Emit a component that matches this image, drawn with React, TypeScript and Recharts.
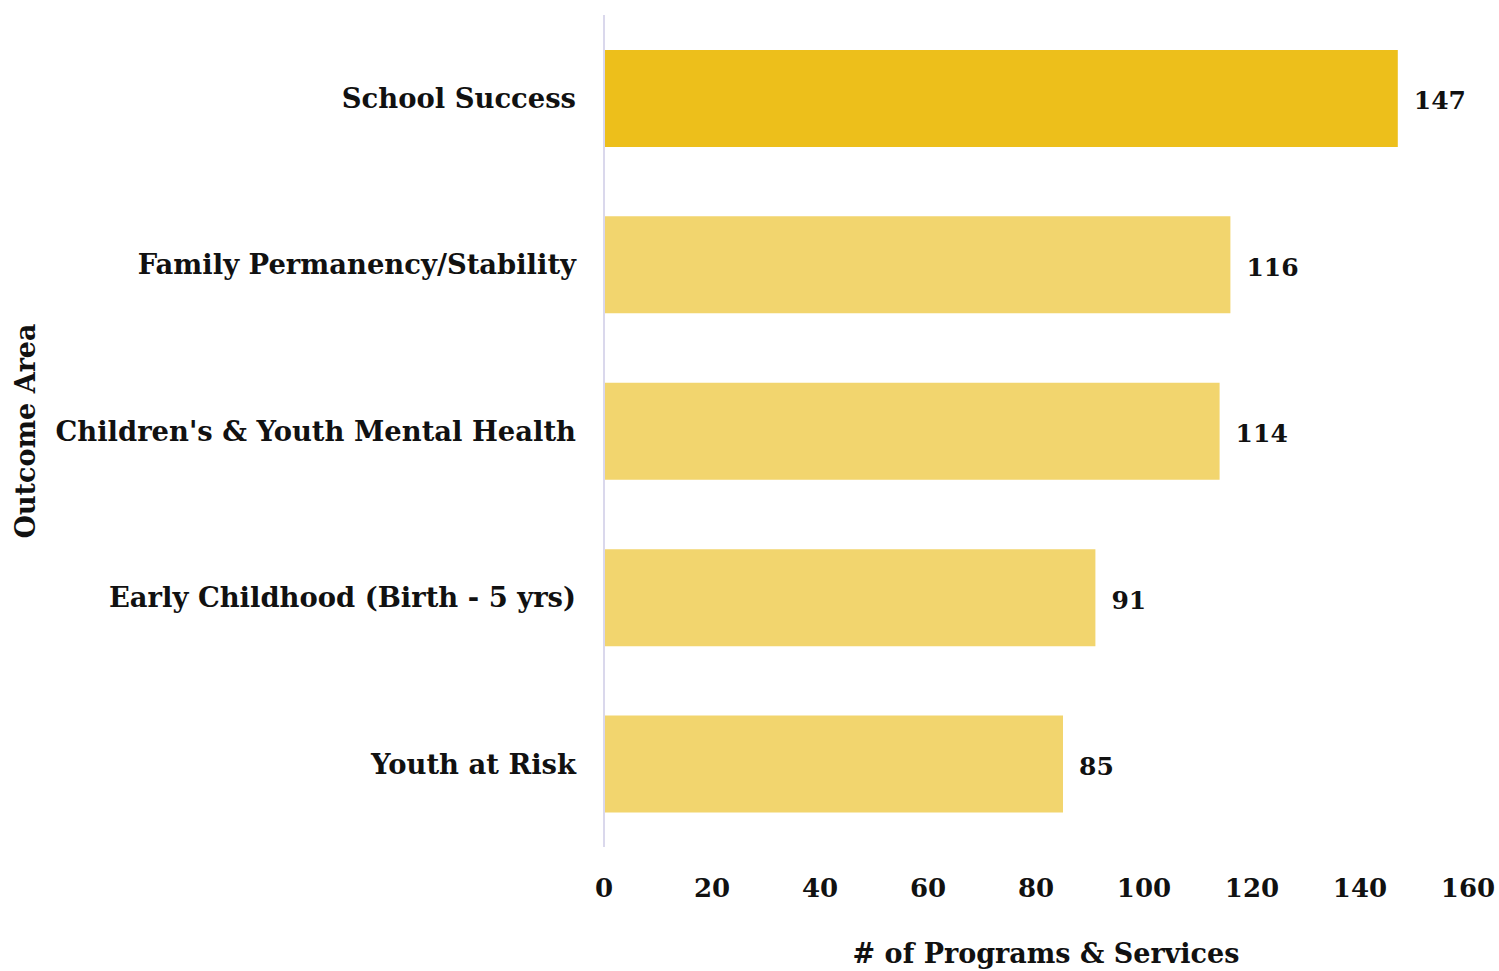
import React from "react";
import { Bar, BarChart, Cell, LabelList, XAxis, YAxis } from "recharts";

const outcomeAreas = [
  "School Success",
  "Family Permanency/Stability",
  "Children's & Youth Mental Health",
  "Early Childhood (Birth - 5 yrs)",
  "Youth at Risk",
];
const programCounts = [147, 116, 114, 91, 85];
const xTicks = [0, 20, 40, 60, 80, 100, 120, 140, 160];

const HIGHLIGHT = "School Success";
const FONT = "'DejaVu Serif', serif";

export default function App() {
  const data = outcomeAreas.map((name, i) => ({ name, count: programCounts[i] }));

  return (
    <div style={{ width: 1499, height: 971, background: "#fff" }}>
      <style>{"body{margin:0;overflow:hidden}"}</style>
      <BarChart
        width={1499}
        height={971}
        data={data}
        layout="vertical"
        barCategoryGap="21%"
        margin={{ top: 15, right: 31, bottom: 0, left: 0 }}
      >
        <XAxis
          type="number"
          domain={[0, 160]}
          ticks={xTicks}
          axisLine={false}
          tickLine={false}
          tickSize={0}
          tickMargin={32}
          height={124}
          tick={{ fill: "#111", fontSize: 26, fontWeight: 700, fontFamily: FONT }}
          label={{
            value: "# of Programs & Services",
            position: "insideBottom",
            offset: 8,
            dx: 10,
            fill: "#111",
            fontSize: 27,
            fontWeight: 700,
            fontFamily: FONT,
          }}
        />
        <YAxis
          type="category"
          dataKey="name"
          width={604}
          axisLine={{ stroke: "#dad8ec", strokeWidth: 2 }}
          tickLine={false}
          tickSize={0}
          tickMargin={28}
          tick={{ fill: "#111", fontSize: 27.4, fontWeight: 700, fontFamily: FONT }}
          label={{
            value: "Outcome Area",
            angle: -90,
            position: "insideLeft",
            offset: 25,
            textAnchor: "middle",
            fill: "#111",
            fontSize: 27,
            fontWeight: 700,
            fontFamily: FONT,
          }}
        />
        <Bar dataKey="count" isAnimationActive={false}>
          {data.map((d) => (
            <Cell key={d.name} fill={d.name === HIGHLIGHT ? "#edbf1b" : "#f2d56e"} />
          ))}
          <LabelList
            dataKey="count"
            position="right"
            offset={16}
            dy={2}
            fill="#111"
            fontSize={25}
            fontWeight={700}
            fontFamily={FONT}
          />
        </Bar>
      </BarChart>
    </div>
  );
}
